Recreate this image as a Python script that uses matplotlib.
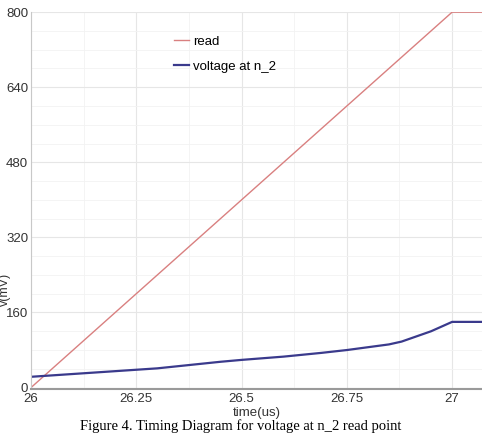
import matplotlib.pyplot as plt
from matplotlib.ticker import MultipleLocator

# time in us, voltage in mV
read_t = [26.0, 27.0, 27.07]
read_v = [0, 800, 800]

n2_t = [26.0, 26.1, 26.2, 26.3, 26.45, 26.5, 26.6, 26.69, 26.75, 26.85, 26.88, 26.95, 27.0, 27.07]
n2_v = [23, 29, 35, 41, 55, 59, 66, 74, 80, 92, 98, 120, 140, 140]

xticks = [26, 26.25, 26.5, 26.75, 27]
xticklabels = ['26', '26.25', '26.5', '26.75', '27']
yticks = [0, 160, 320, 480, 640, 800]

plt.rcParams['font.family'] = ['Liberation Sans', 'DejaVu Sans']

fig = plt.figure(figsize=(4.82, 4.34), dpi=100)
ax = fig.add_axes([0.0643, 0.1037, 0.9357, 0.8683])

ax.plot(read_t, read_v, color='#d98080', lw=1.0, label='read')
ax.plot(n2_t, n2_v, color='#3a3a8c', lw=1.6, label='voltage at n_2')

ax.set_xlim(26.0, 27.071)
ax.set_ylim(-3, 800)
ax.set_xticks(xticks)
ax.set_xticklabels(xticklabels)
ax.set_yticks(yticks)
ax.xaxis.set_minor_locator(MultipleLocator(0.125))
ax.yaxis.set_minor_locator(MultipleLocator(40))

ax.grid(True, which='major', color='#e6e6e6', lw=0.8)
ax.grid(True, which='minor', color='#f2f2f2', lw=0.6)
ax.set_axisbelow(True)

for s in ['top', 'right']:
    ax.spines[s].set_visible(False)
ax.spines['left'].set_color('#c8c8c8')
ax.spines['bottom'].set_color('#9a9a9a')
ax.spines['bottom'].set_linewidth(1.5)

ax.tick_params(which='both', length=0, labelsize=9.5, colors='#333333')
ax.tick_params(axis='x', pad=3)
ax.tick_params(axis='y', pad=2)

ax.set_xlabel('time(us)', fontsize=9.5, color='#333333', labelpad=1)
ax.set_ylabel('v(mV)', fontsize=9, color='#333333')
ax.yaxis.set_label_coords(-0.045, 0.265)

leg = ax.legend(loc='upper left', bbox_to_anchor=(0.29, 0.97), frameon=False,
                fontsize=9.5, handlelength=1.2, handletextpad=0.3, labelspacing=1.0)

fig.text(0.5, 0.003, 'Figure 4. Timing Diagram for voltage at n_2 read point',
         ha='center', va='bottom', fontsize=10.5, family='Liberation Serif')

fig.savefig('out.png', dpi=100)
